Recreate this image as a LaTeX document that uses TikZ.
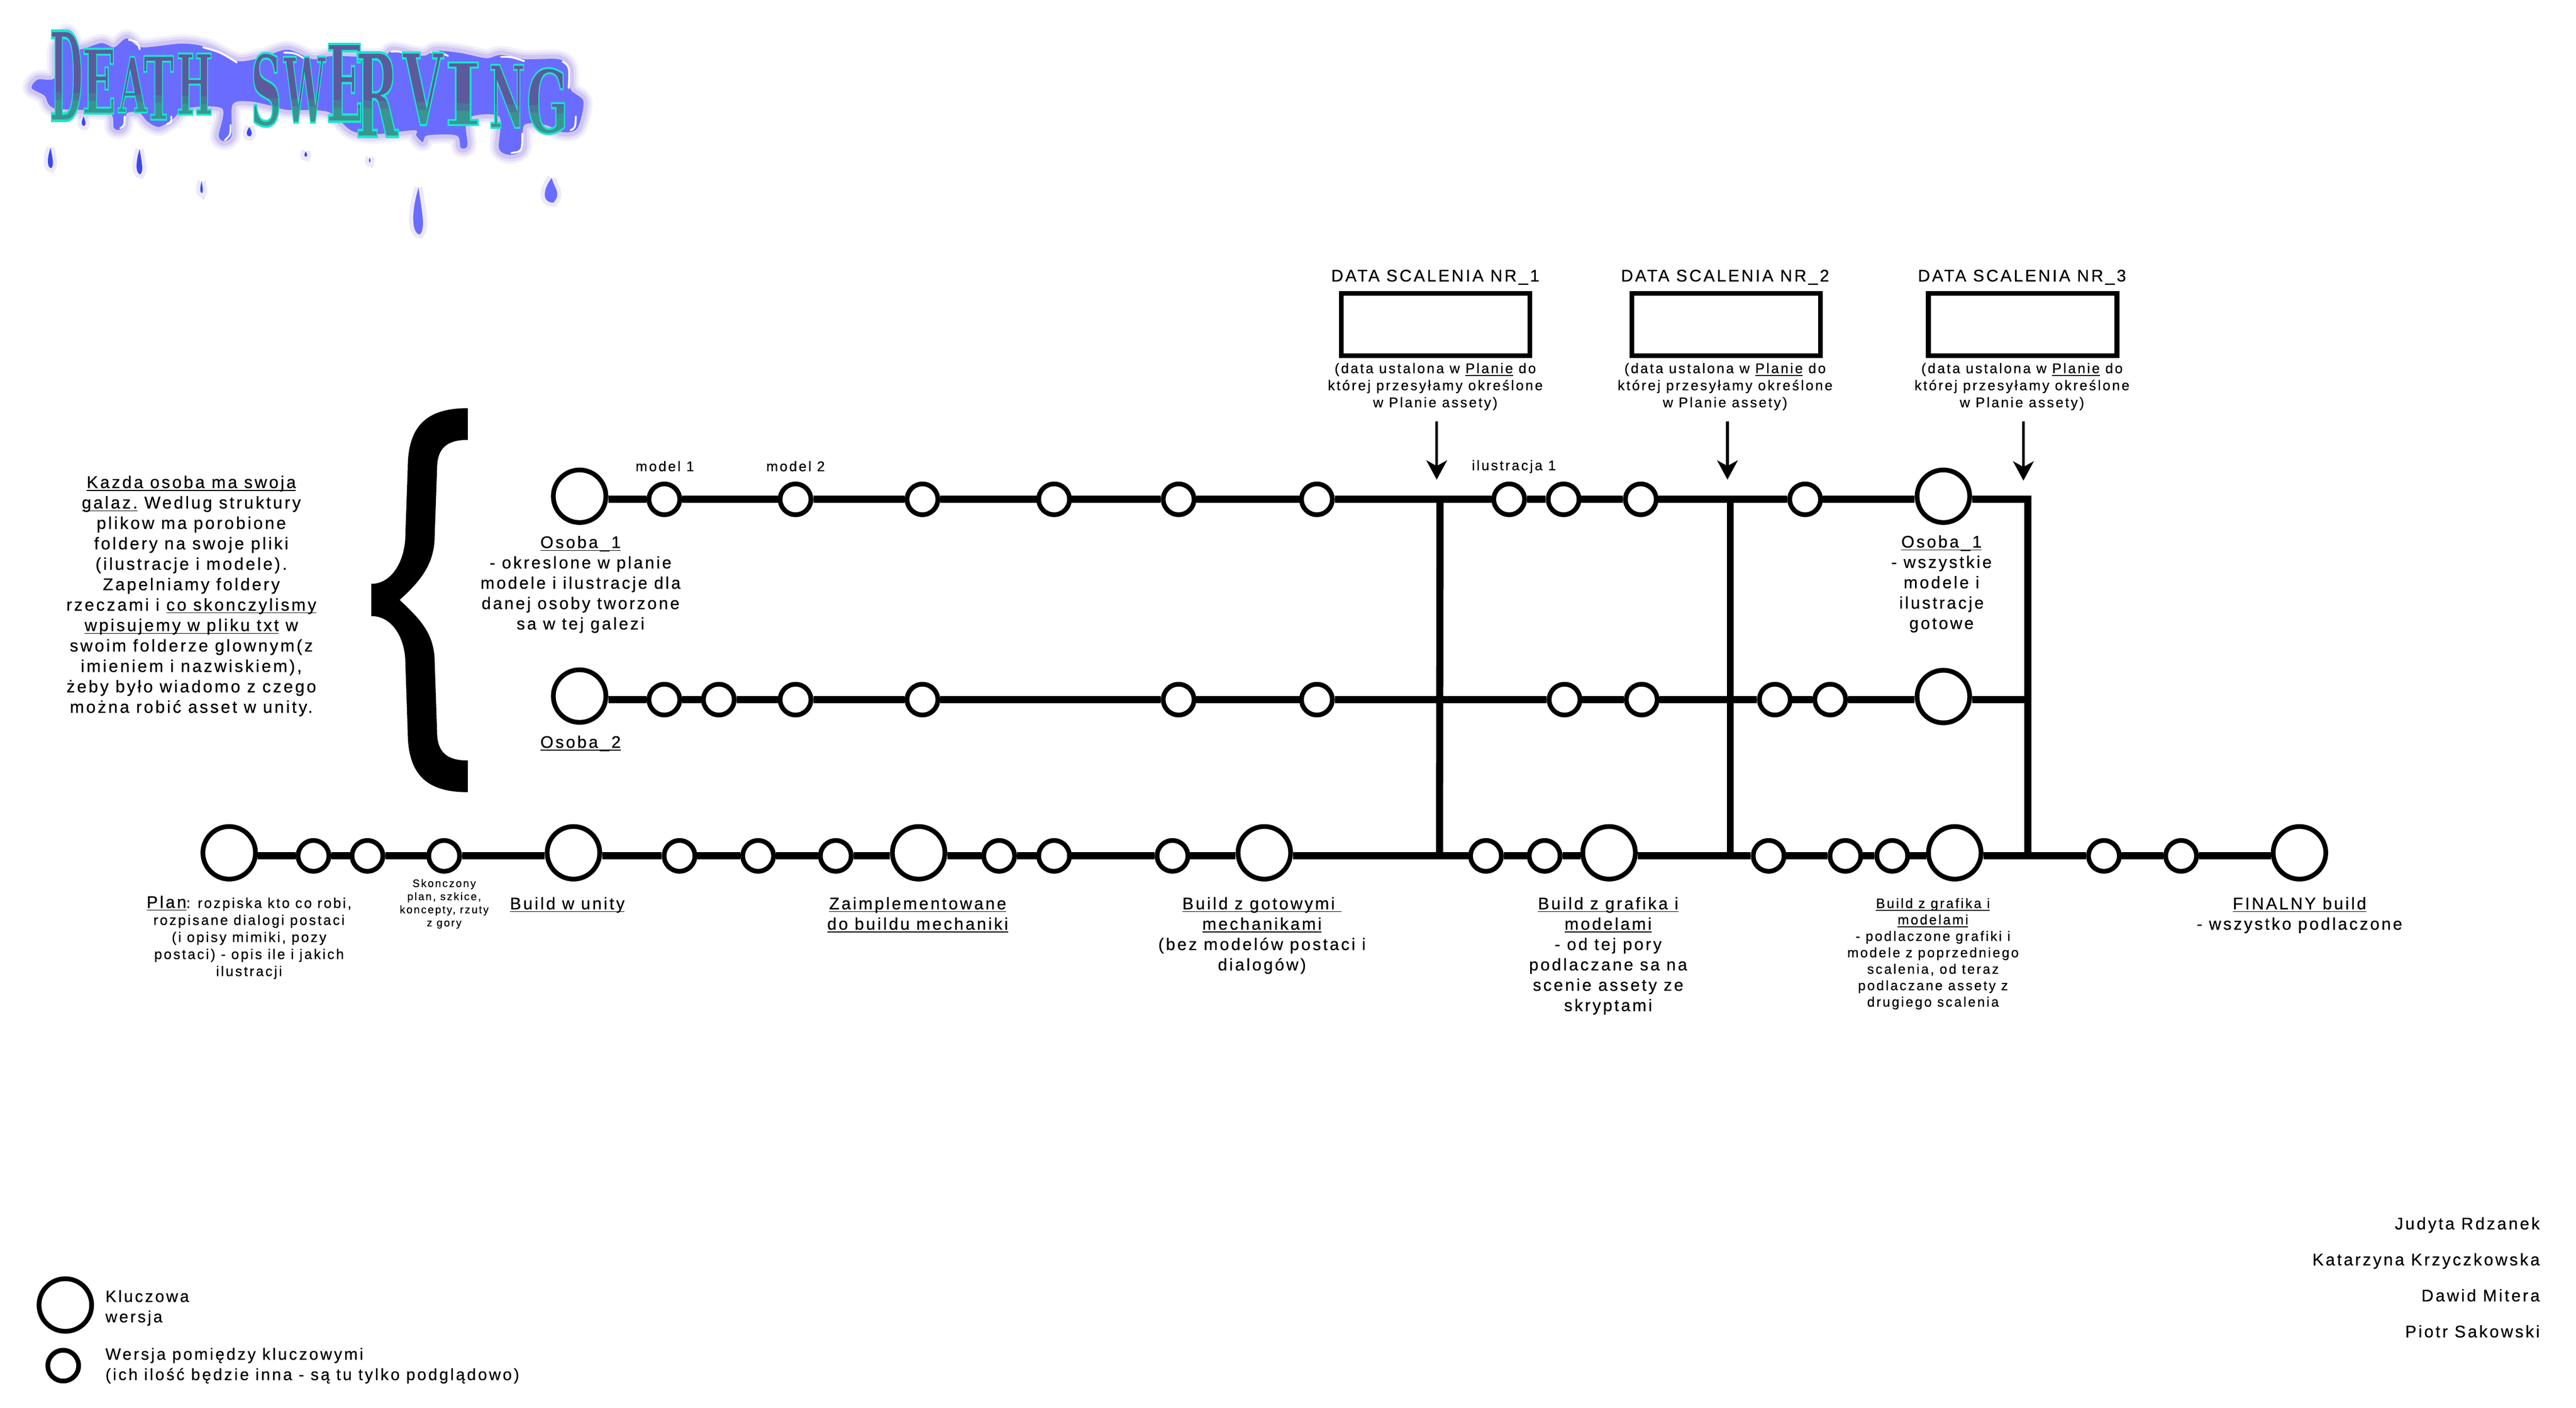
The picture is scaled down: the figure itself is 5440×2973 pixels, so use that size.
\documentclass[tikz,border=0pt]{standalone}
\usepackage{fontspec}
\setmainfont[LetterSpace=12,FakeBold=0.5]{Liberation Sans}
\newfontfamily\logofont[UprightFont=* Bold]{DejaVu Serif}
\usetikzlibrary{arrows.meta}
\definecolor{plama}{HTML}{6A6CFF}
\definecolor{poswiata}{HTML}{8468DC}
\definecolor{kropla}{HTML}{3A48F4}
\definecolor{logogray}{HTML}{5C5A9C}
\definecolor{logoteal}{HTML}{3A9490}
\newcommand{\duzy}{\fontsize{10.1}{12.23}\selectfont}
\newcommand{\kazdy}{\fontsize{10.25}{12.27}\selectfont}
\newcommand{\legendy}{\fontsize{9.8}{12.23}\selectfont}
\newcommand{\sredni}{\fontsize{8.45}{10.24}\selectfont}
\newcommand{\buildmaly}{\fontsize{8.2}{9.87}\selectfont}
\newcommand{\malutki}{\fontsize{6.5}{7.88}\selectfont}
\newcommand{\plamapath}{plot[smooth cycle,tension=.5] coordinates {(67,186) (80,168) (116,164) (120,100) (143,70) (165,104) (214,91) (241,100) (268,81) (299,100) (384,92) (437,100) (500,129) (554,121) (607,105) (661,125) (705,118) (804,121) (830,107) (893,118) (920,107) (973,112) (1027,123) (1058,116) (1107,125) (1179,125) (1201,143) (1205,189) (1232,214) (1219,271) (1188,279) (1152,264) (1107,264) (1103,314) (1080,327) (1054,314) (1054,246) (987,250) (987,307) (973,312) (964,286) (902,286) (893,300) (879,286) (875,275) (786,284) (741,275) (692,236) (607,232) (580,225) (527,214) (491,221) (489,286) (473,298) (462,286) (469,229) (393,229) (362,254) (335,268) (312,257) (295,239) (268,239) (259,271) (241,271) (228,236) (116,229) (94,202)}}
\newcommand{\logoletters}[1]{%
  \foreach \ltr/\lx/\lt/\lb/\lw [evaluate=\lw as \wpt using \lw*0.2845,
      evaluate=\lb as \hpt using (\lb-\lt)*0.2845,
      evaluate=\lb as \ym using (\lb+\lt)/2] in
    {D/140/65/255/70,E/209/103/240/72,A/280/120/238/60,T/335/118/253/64,H/411/113/242/77,
     S/562/113/266/65,W/643/120/259/88,E/728/93/257/78,R/796/111/289/90,V/893/111/264/85,
     I/978/132/264/78,N/1071/137/270/76,G/1156/145/282/88}
    \node[inner sep=0,text=#1] (logo\lx) at (\lx,\ym) {\resizebox{\wpt pt}{\hpt pt}{\special{pdf:code 2 Tr 0.22 w 0.086 0.91 0.808 RG}\logofont\ltr\special{pdf:code 0 Tr}}};}
\tikzset{
  >={Stealth[length=11.6pt,width=12.4pt,inset=3.4pt]},
  tor/.style={line width=4.27pt},
  wersja/.style={circle,draw,fill=white,line width=2.845pt,inner sep=0,minimum size=0.65cm},
  kluczowa/.style={circle,draw,fill=white,line width=2.845pt,inner sep=0,minimum size=1.11cm},
  databox/.style={rectangle,draw,line width=2.845pt,minimum width=3.98cm,minimum height=1.31cm},
  strzalka/.style={line width=1.7pt,->},
  opis/.style={inner sep=0,align=center,anchor=north,font=\duzy,yshift=0.6pt},
  opissredni/.style={inner sep=0,align=center,anchor=north,font=\sredni,yshift=0.6pt},
}
\begin{document}
\begin{tikzpicture}[x=0.01cm,y=-0.01cm]
  \useasboundingbox (0,0) rectangle (5440,2973);

  % logo
  \foreach \w/\o in {11/0.10,8/0.14,5/0.20}
    \draw[poswiata,line width=\w pt,opacity=\o,line join=round] \plamapath;
  \fill[plama] \plamapath;
  \foreach \dx/\dt/\db/\dw/\dc in {177/246/266/12/kropla,527/268/288/16/kropla,107/312/355/16/kropla,
      295/315/368/18/kropla,646/320/331/9/kropla,781/333/343/5/kropla,426/383/408/8/kropla,
      884/396/495/31/plama,1165/376/428/40/plama} {
    \draw[poswiata,line width=5pt,opacity=0.15] (\dx,\dt) .. controls ({\dx+0.2*\dw},{\dt+0.5*(\db-\dt)}) and ({\dx+0.5*\dw},{\db-0.5*\dw}) .. ({\dx+0.1*\dw},\db) .. controls ({\dx-0.5*\dw},\db) and ({\dx-0.5*\dw},{\dt+0.5*(\db-\dt)}) .. (\dx,\dt);
    \fill[\dc] (\dx,\dt) .. controls ({\dx+0.2*\dw},{\dt+0.5*(\db-\dt)}) and ({\dx+0.5*\dw},{\db-0.5*\dw}) .. ({\dx+0.1*\dw},\db) .. controls ({\dx-0.5*\dw},\db) and ({\dx-0.5*\dw},{\dt+0.5*(\db-\dt)}) .. (\dx,\dt);
  }
  \foreach \ax/\ay/\bx/\by/\cx/\cy in {143/72/162/85/160/120,429/100/465/110/500/132,826/109/845/108/870/121,
      1058/120/1080/120/1107/129,1188/130/1203/140/1201/186,272/84/290/88/295/104,600/111/625/112/652/130,
      911/111/925/108/946/118,475/296/487/285/487/264,1080/323/1103/320/1103/282,1205/275/1215/270/1216/246,
      254/271/263/265/263/246,353/262/362/258/362/246}
    \draw[white,line width=1.1pt,line cap=round] (\ax,\ay) .. controls (\bx,\by) .. (\cx,\cy);
  \foreach \ya/\yb/\mix in {0/192/0,192/208/50,208/420/100} {
    \begin{scope}
      \clip (0,\ya) -- (1300,\ya+35) -- (1300,\yb+35) -- (0,\yb) -- cycle;
      \logoletters{logoteal!\mix!logogray}
    \end{scope}
  }

  % daty scalenia
  \node[opis] (dt1) at (3031,571) {DATA SCALENIA NR\_1};
  \node[opis] (dt2) at (3643,571) {DATA SCALENIA NR\_2};
  \node[opis] (dt3) at (4270,571) {DATA SCALENIA NR\_3};
  \node[databox] (box1) at (3032,685.5) {};
  \node[databox] (box2) at (3645.5,685.5) {};
  \node[databox] (box3) at (4271.5,685.5) {};
  \node[opissredni] (nt1) at (3031,768) {(data ustalona w \underbar{Planie} do\\której przesyłamy określone\\w Planie assety)};
  \node[opissredni] (nt2) at (3643,768) {(data ustalona w \underbar{Planie} do\\której przesyłamy określone\\w Planie assety)};
  \node[opissredni] (nt3) at (4270,768) {(data ustalona w \underbar{Planie} do\\której przesyłamy określone\\w Planie assety)};
  \coordinate (a1s) at (3034,890);
  \coordinate (a1e) at (3034,1013);
  \coordinate (a2s) at (3648,890);
  \coordinate (a2e) at (3648,1013);
  \coordinate (a3s) at (4273,890);
  \coordinate (a3e) at (4273,1015);
  \draw[strzalka] (a1s) -- (a1e);
  \draw[strzalka] (a2s) -- (a2e);
  \draw[strzalka] (a3s) -- (a3e);

  % opis galezi
  \node[opis,font=\kazdy] (kazda) at (404,1006) {\underbar{Kazda osoba ma swoja}\\\underbar{galaz.} Wedlug struktury\\plikow ma porobione\\foldery na swoje pliki\\(ilustracje i modele).\\Zapelniamy foldery\\rzeczami i \underbar{co skonczylismy}\\\underbar{wpisujemy w pliku txt} w\\swoim folderze glownym(z\\imieniem i nazwiskiem),\\żeby było wiadomo z czego\\można robić asset w unity.};
  \fill (988,862) .. controls (900,862) and (861,900) .. (861,990) -- (856,1130) .. controls (856,1180) and (830,1233) .. (784,1233) -- (784,1301) .. controls (830,1301) and (856,1350) .. (856,1400) -- (861,1545) .. controls (861,1635) and (900,1673) .. (988,1673) -- (988,1606) .. controls (945,1606) and (923,1590) .. (923,1545) -- (918,1400) .. controls (918,1340) and (890,1310) .. (844,1267) .. controls (890,1225) and (918,1190) .. (918,1130) -- (923,990) .. controls (923,945) and (945,929) .. (988,929) -- cycle;

  % galaz Osoba_1
  \node[kluczowa] (o1a) at (1224,1048) {};
  \foreach \nm/\px in {a/1403,b/1680,c/1948,d/2226,e/2489,f/2781,g/3187,h/3302,i/3465,j/3812}
    \node[wersja] (r1\nm) at (\px,1054.5) {};
  \node[kluczowa] (o1b) at (4104,1048) {};
  \coordinate (r1k) at (4282,1054.5);
  \coordinate (m1a) at (3041,1054.5);
  \coordinate (m2a) at (3654,1054.5);
  \draw[tor] (o1a.east |- r1a) -- (r1a) -- (r1b) -- (r1c) -- (r1d) -- (r1e) -- (r1f) -- (r1g) -- (r1h) -- (r1i) -- (r1j) -- (o1b.west |- r1j);
  \node[opis] (ltr1) at (1226,1133) {\underbar{Osoba\_1}\\- okreslone w planie\\modele i ilustracje dla\\danej osoby tworzone\\sa w tej galezi};
  \node[opissredni] (lm1) at (1404,975) {model 1};
  \node[opissredni] (lm2) at (1680,975) {model 2};
  \node[opissredni] (li1) at (3197,973) {ilustracja 1};
  \node[opis] (ltr1k) at (4100,1132) {\underbar{Osoba\_1}\\- wszystkie\\modele i\\ilustracje\\gotowe};

  % galaz Osoba_2
  \node[kluczowa] (o2a) at (1224,1470) {};
  \foreach \nm/\px in {a/1403,b/1518,c/1680,d/1948,e/2489,f/2781,g/3304,h/3467,i/3748,j/3865}
    \node[wersja] (r2\nm) at (\px,1477.5) {};
  \node[kluczowa] (o2b) at (4104,1471) {};
  \coordinate (r2k) at (4282,1477.5);
  \draw[tor] (o2a.east |- r2a) -- (r2a) -- (r2b) -- (r2c) -- (r2d) -- (r2e) -- (r2f) -- (r2g) -- (r2h) -- (r2i) -- (r2j) -- (o2b.west |- r2j);
  \draw[tor] (o2b.east |- r2j) -- (r2k);
  \node[opis] (ltr2) at (1226,1555) {\underbar{Osoba\_2}};

  % glowna linia
  \node[kluczowa] (plan) at (484,1801) {};
  \node[wersja] (s1) at (662,1807.5) {};
  \node[wersja] (s2) at (776,1807.5) {};
  \node[wersja] (s3) at (938,1807.5) {};
  \node[kluczowa] (unity) at (1211,1801) {};
  \node[wersja] (s4) at (1435,1807.5) {};
  \node[wersja] (s5) at (1601,1807.5) {};
  \node[wersja] (s6) at (1765,1807.5) {};
  \node[kluczowa] (impl) at (1940,1801) {};
  \node[wersja] (s7) at (2110,1807.5) {};
  \node[wersja] (s8) at (2226,1807.5) {};
  \node[wersja] (s9) at (2476,1807.5) {};
  \node[kluczowa] (mech) at (2670,1801) {};
  \node[wersja] (s10) at (3138,1807.5) {};
  \node[wersja] (s11) at (3262,1807.5) {};
  \node[kluczowa] (graf1) at (3398,1801) {};
  \node[wersja] (s12) at (3735,1807.5) {};
  \node[wersja] (s13) at (3897,1807.5) {};
  \node[wersja] (s14) at (3996,1807.5) {};
  \node[kluczowa] (graf2) at (4128,1801) {};
  \node[wersja] (s15) at (4443,1807.5) {};
  \node[wersja] (s16) at (4606,1807.5) {};
  \node[kluczowa] (fin) at (4856,1801) {};
  \coordinate (m1b) at (3040,1807.5);
  \coordinate (m2b) at (3654,1807.5);
  \coordinate (m3b) at (4282,1807.5);
  \draw[tor] (plan.east |- s1) -- (s1) -- (s2) -- (s3) -- (unity.west |- s3);
  \draw[tor] (unity.east |- s4) -- (s4) -- (s5) -- (s6) -- (impl.west |- s6);
  \draw[tor] (impl.east |- s7) -- (s7) -- (s8) -- (s9) -- (mech.west |- s9);
  \draw[tor] (mech.east |- s10) -- (s10) -- (s11) -- (graf1.west |- s11);
  \draw[tor] (graf1.east |- s12) -- (s12) -- (s13) -- (s14) -- (graf2.west |- s14);
  \draw[tor] (graf2.east |- s15) -- (s15) -- (s16) -- (fin.west |- s16);

  % pionowe scalenia
  \draw[tor] (m1a) -- (m1b);
  \draw[tor] (m2a) -- (m2b);
  \draw[tor,line join=miter] (o1b.east |- r1j) -- (r1k) -- (m3b);

  % opisy glownej linii
  \node[opissredni] (lplan) at (526,1893) {{\duzy\underbar{Plan}}: rozpiska kto co robi,\\rozpisane dialogi postaci\\(i opisy mimiki, pozy\\postaci) - opis ile i jakich\\ilustracji};
  \node[inner sep=0,align=center,anchor=north,font=\malutki] (lsk) at (938,1856) {Skonczony\\plan, szkice,\\koncepty, rzuty\\z gory};
  \node[opis] (lun) at (1198,1896) {\underbar{Build w unity}};
  \node[opis] (lzaim) at (1938,1896) {\underbar{Zaimplementowane}\\\underbar{do buildu mechaniki}};
  \node[opis] (lmech) at (2665,1896) {\underbar{Build z gotowymi~}\\\underbar{mechanikami}\\(bez modelów postaci i\\dialogów)};
  \node[opis] (lgr1) at (3396,1896) {\underbar{Build z grafika i}\\\underbar{modelami}\\- od tej pory\\podlaczane sa na\\scenie assety ze\\skryptami};
  \node[inner sep=0,align=center,anchor=north,font=\buildmaly] (lgr2) at (4082,1896) {\underbar{Build z grafika i}\\\underbar{modelami}\\- podlaczone grafiki i\\modele z poprzedniego\\scalenia, od teraz\\podlaczane assety z\\drugiego scalenia};
  \node[opis] (lfin) at (4856,1896) {\underbar{FINALNY build}\\- wszystko podlaczone};

  % legenda
  \node[kluczowa] (legk) at (138,2756) {};
  \node[wersja] (legw) at (133.5,2884) {};
  \node[opis,font=\legendy,anchor=north west,align=left] (legkt) at (222,2726) {Kluczowa\\wersja};
  \node[opis,font=\legendy,anchor=north west,align=left] (legwt) at (222,2848) {Wersja pomiędzy kluczowymi\\(ich ilość będzie inna - są tu tylko podglądowo)};

  % autorzy
  \node[opis,anchor=north east] (au1) at (5364,2572) {Judyta Rdzanek};
  \node[opis,anchor=north east] (au2) at (5364,2648) {Katarzyna Krzyczkowska};
  \node[opis,anchor=north east] (au3) at (5364,2724) {Dawid Mitera};
  \node[opis,anchor=north east] (au4) at (5364,2800) {Piotr Sakowski};
\end{tikzpicture}
\end{document}
